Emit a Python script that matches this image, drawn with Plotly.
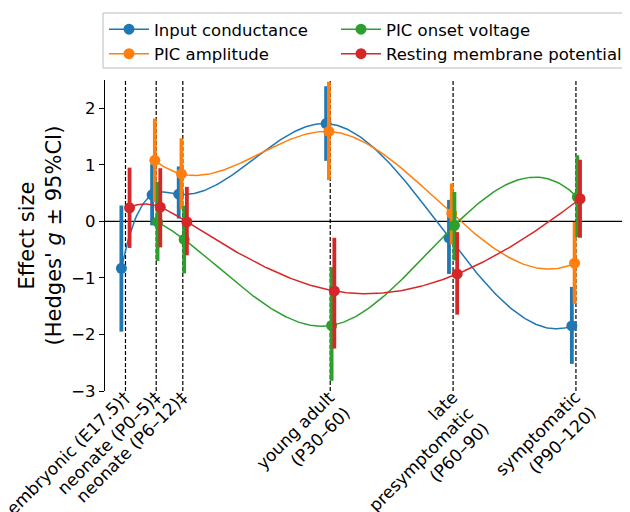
import numpy as np
import plotly.graph_objects as go

# ---------------- data ----------------
stage_labels = [
    "embryonic (E17.5)†",
    "neonate (P0–5)‡",
    "neonate (P6–12)‡",
    "young adult<br>(P30–60)",
    "late<br>presymptomatic<br>(P60–90)",
    "symptomatic<br>(P90–120)",
]
stage_x = [-5, 2.5, 9, 45, 75, 105]

series_names = ["Input conductance", "PIC amplitude", "PIC onset voltage", "Resting membrane potential"]
series_colors = ["#1f77b4", "#ff7f0e", "#2ca02c", "#d62728"]
series_offsets = [-1.0, -1.0 / 3, 1.0 / 3, 1.0]
series_legend = ["legend", "legend", "legend2", "legend2"]

g_input = [-0.83, 0.47, 0.48, 1.73, -0.29, -1.85]
lo_input = [-1.95, -0.07, 0.05, 1.07, -0.93, -2.52]
hi_input = [0.28, 1.02, 0.97, 2.39, 0.38, -1.16]

g_amp = [None, 1.08, 0.84, 1.59, 0.14, -0.74]
lo_amp = [None, 0.34, 0.21, 0.73, -0.41, -1.46]
hi_amp = [None, 1.82, 1.47, 2.47, 0.67, -0.01]

g_onset = [None, -0.01, -0.32, -1.84, -0.07, 0.43]
lo_onset = [None, -0.70, -0.92, -2.82, -0.69, -0.28]
hi_onset = [None, 0.70, 0.28, -0.81, 0.52, 1.17]

g_rmp = [0.24, 0.25, -0.01, -1.23, -0.93, 0.40]
lo_rmp = [-0.47, -0.46, -0.60, -2.25, -1.65, -0.29]
hi_rmp = [0.95, 0.94, 0.61, -0.29, -0.19, 1.09]

series_g = [g_input, g_amp, g_onset, g_rmp]
series_lo = [lo_input, lo_amp, lo_onset, lo_rmp]
series_hi = [hi_input, hi_amp, hi_onset, hi_rmp]

y_ticks = [-3, -2, -1, 0, 1, 2]
y_range = [-3, 2.5]
x_range = [-10, 118.2]

FONT = "DejaVu Sans"
TICK_FS = 16.5
XLAB_FS = 17


def not_a_knot_spline(xs, ys, n=300):
    xs = np.asarray(xs, float)
    ys = np.asarray(ys, float)
    m = len(xs) - 1
    h = np.diff(xs)
    A = np.zeros((4 * m, 4 * m))
    b = np.zeros(4 * m)
    r = 0
    for i in range(m):
        c = 4 * i
        A[r, c] = 1
        b[r] = ys[i]
        r += 1
        A[r, c:c + 4] = [1, h[i], h[i] ** 2, h[i] ** 3]
        b[r] = ys[i + 1]
        r += 1
    for k in range(1, m):
        c0 = 4 * (k - 1)
        c1 = 4 * k
        A[r, c0:c0 + 4] = [0, 1, 2 * h[k - 1], 3 * h[k - 1] ** 2]
        A[r, c1 + 1] = -1
        r += 1
        A[r, c0:c0 + 4] = [0, 0, 2, 6 * h[k - 1]]
        A[r, c1 + 2] = -2
        r += 1
    A[r, 3] = 1
    A[r, 7] = -1
    r += 1
    A[r, 4 * (m - 2) + 3] = 1
    A[r, 4 * (m - 1) + 3] = -1
    coef = np.linalg.solve(A, b).reshape(m, 4)
    xx = np.linspace(xs[0], xs[-1], n)
    seg = np.clip(np.searchsorted(xs, xx, side="right") - 1, 0, m - 1)
    t = xx - xs[seg]
    cc = coef[seg]
    yy = cc[:, 0] + cc[:, 1] * t + cc[:, 2] * t ** 2 + cc[:, 3] * t ** 3
    return xx, yy


fig = go.Figure()

for name, color, off, leg, gv, lo, hi in zip(series_names, series_colors, series_offsets,
                                              series_legend, series_g, series_lo, series_hi):
    idx = [i for i, v in enumerate(gv) if v is not None]
    xs = [stage_x[i] + off for i in idx]
    ys = [gv[i] for i in idx]
    xx, yy = not_a_knot_spline(xs, ys)
    fig.add_trace(go.Scatter(x=xx, y=yy, mode="lines", line=dict(color=color, width=1.5),
                             showlegend=False, hoverinfo="skip"))
    xg, yg, ep, em = [], [], [], []
    for j, i in enumerate(idx):
        if j > 0:
            xg.append(None)
            yg.append(None)
            ep.append(0)
            em.append(0)
        xg.append(stage_x[i] + off)
        yg.append(gv[i])
        ep.append(hi[i] - gv[i])
        em.append(gv[i] - lo[i])
    fig.add_trace(go.Scatter(
        x=xg, y=yg, mode="lines+markers", connectgaps=False, name=name, legend=leg,
        line=dict(color=color, width=1.5),
        marker=dict(size=11, color=color),
        error_y=dict(type="data", symmetric=False, array=ep, arrayminus=em,
                     thickness=3.8, width=0, color=color),
    ))

# vertical dashed stage lines and zero line
for sx in stage_x:
    fig.add_shape(type="line", xref="x", yref="y", x0=sx, x1=sx, y0=y_range[0], y1=y_range[1],
                  line=dict(color="black", width=1.2, dash="4px,2px"), layer="below")
fig.add_shape(type="line", xref="paper", yref="y", x0=0, x1=1, y0=0, y1=0,
              line=dict(color="black", width=1.3), layer="below")

# x tick labels: rotated 45 deg, right-aligned lines, block's top-right corner at the tick
LINE_H = 1.3 * XLAB_FS
for sx, lab in zip(stage_x, stage_labels):
    nlines = lab.count("<br>") + 1
    h = nlines * LINE_H + 2
    fig.add_annotation(x=sx, xref="x", y=0, yref="paper", text=lab, showarrow=False,
                       textangle=-45, xanchor="right", yanchor="top", align="right",
                       xshift=0.7071 * h - 6, yshift=7, borderpad=1,
                       font=dict(family=FONT, size=XLAB_FS, color="black"))

# legend frame
fig.add_shape(type="rect", xref="paper", yref="paper", x0=-0.0038, x1=1.1, y0=1.0386, y1=1.2154,
              line=dict(color="#bbbbbb", width=1), fillcolor="rgba(0,0,0,0)", layer="above")

fig.update_layout(
    width=630, height=512,
    margin=dict(l=97, r=8, t=72, b=129, autoexpand=False),
    plot_bgcolor="white", paper_bgcolor="white",
    font=dict(family=FONT, size=TICK_FS, color="black"),
    xaxis=dict(range=x_range, showgrid=False, zeroline=False, showline=False,
               showticklabels=False, ticks="", automargin=False),
    yaxis=dict(range=y_range, showgrid=False, zeroline=False, showline=True,
               linecolor="black", linewidth=1.2, ticks="outside", ticklen=5, tickwidth=1.2,
               tickcolor="black", tickvals=y_ticks, tickfont=dict(size=TICK_FS),
               automargin=False,
               title=dict(text="Effect size<br>(Hedges' <i>g</i> ± 95%CI)", font=dict(size=21),
                          standoff=3)),
    legend=dict(orientation="v", x=-0.0019, xanchor="left", y=1.2187, yanchor="top",
                borderwidth=0, bgcolor="rgba(0,0,0,0)", font=dict(size=TICK_FS), itemwidth=40),
    legend2=dict(orientation="v", x=0.44, xanchor="left", y=1.2187, yanchor="top",
                 borderwidth=0, bgcolor="rgba(0,0,0,0)", font=dict(size=TICK_FS), itemwidth=40),
    showlegend=True,
)

fig.write_html("out.html")
